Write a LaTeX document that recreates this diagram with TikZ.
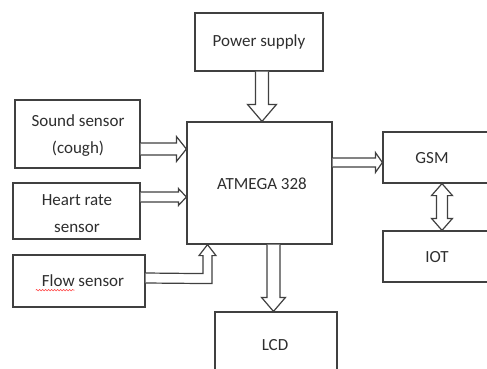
\documentclass[tikz,border=0pt]{standalone}
\usepackage{fontspec}
\setmainfont{Carlito}
\usetikzlibrary{calc,decorations.pathmorphing}
\tikzset{
  box/.style={draw=black!75, line width=1.2pt, rectangle, inner sep=0pt},
  lbl/.style={text=black!82, font=\fontsize{17}{27}\selectfont, align=center, inner sep=0pt},
  arr/.style={draw=black!75, line width=1.2pt, line join=miter, fill=white},
}
% horizontal block arrow: start #1, tip #2, half shaft #3, half head #4, head length #5
\newcommand\harrowblk[5]{%
  \draw[arr] ($(#1)+(0,#3)$) -- ($(#2)+(-#5,#3)$) -- ($(#2)+(-#5,#4)$) -- (#2)
    -- ($(#2)+(-#5,-#4)$) -- ($(#2)+(-#5,-#3)$) -- ($(#1)+(0,-#3)$);}
% vertical (downward) block arrow
\newcommand\varrowblk[5]{%
  \draw[arr] ($(#1)+(-#3,0)$) -- ($(#2)+(-#3,-#5)$) -- ($(#2)+(-#4,-#5)$) -- (#2)
    -- ($(#2)+(#4,-#5)$) -- ($(#2)+(#3,-#5)$) -- ($(#1)+(#3,0)$);}
\begin{document}
\begin{tikzpicture}[x=1pt,y=-1pt]
\useasboundingbox (0,0) rectangle (487,369);
\clip (0,0) rectangle (487,369);
% boxes
\node[box, minimum width=128pt, minimum height=58pt] (pwr) at (259,42) {};
\node[lbl] (pwrt) at (pwr) {Power supply};
\node[box, minimum width=145pt, minimum height=122pt] (atm) at (259.5,183) {};
\node[lbl] (atmt) at (262,184) {ATMEGA 328};
\node[box, minimum width=125pt, minimum height=68pt] (snd) at (77.5,134) {};
\node[lbl] (sndt) at (78,135.5) {Sound sensor\\(cough)};
\node[box, minimum width=127pt, minimum height=56pt] (hrt) at (76.5,211) {};
\node[lbl] (hrtt) at (77,213.5) {Heart rate\\sensor};
\node[box, minimum width=132pt, minimum height=52pt] (flw) at (79,281) {};
\node[lbl] (flwt) at (83,281) {Flow sensor};
\node[box, minimum width=122pt, minimum height=80pt] (lcd) at (276,352) {};
\node[lbl] (lcdt) at (275,345) {LCD};
\node[box, minimum width=120pt, minimum height=51pt] (gsm) at (443,157.5) {};
\node[lbl] (gsmt) at (432,158) {GSM};
\node[box, minimum width=120pt, minimum height=51pt] (iot) at (443,256.5) {};
\node[lbl] (iott) at (437,257) {IOT};
% spell-check squiggle under "Flow"
\draw[red!75, line width=0.6pt, decorate, decoration={snake, amplitude=0.7pt, segment length=3pt}]
  ($(flwt.south west)+(-6,3)$) -- ($(flwt.south west)+(33,3)$);
% arrows
\coordinate (pa) at (262,0);
\varrowblk{pa |- pwr.south}{pa |- atm.north}{6.5}{14.5}{17}
\coordinate (la) at (273.5,0);
\varrowblk{la |- atm.south}{la |- lcd.north}{6.5}{12}{14}
\coordinate (sa) at (0,149);
\harrowblk{snd.east |- sa}{atm.west |- sa}{6}{12.5}{10}
\coordinate (ha) at (0,197);
\harrowblk{hrt.east |- ha}{atm.west |- ha}{5}{8.5}{8}
\coordinate (ga) at (0,162.5);
\harrowblk{atm.east |- ga}{gsm.west |- ga}{4.5}{10}{7}
% flow sensor L-shaped arrow
\coordinate (fa) at (207.5,0);
\coordinate (ftip) at (fa |- atm.south);
\draw[arr] (flw.east |- 0,273) -- ($(ftip)+(-4.5,29)$) -- ($(ftip)+(-4.5,11)$) -- ($(ftip)+(-8.5,11)$)
  -- (ftip) -- ($(ftip)+(8.5,11)$) -- ($(ftip)+(4.5,11)$) -- ($(ftip)+(4.5,39)$) -- (flw.east |- 0,283);
% GSM <-> IOT double arrow
\coordinate (da) at (442,0);
\coordinate (dt) at (da |- gsm.south);
\coordinate (db) at (da |- iot.north);
\draw[arr] (dt) -- ($(dt)+(10.5,12)$) -- ($(dt)+(5.5,12)$) -- ($(db)+(5.5,-12)$) -- ($(db)+(10.5,-12)$)
  -- (db) -- ($(db)+(-10.5,-12)$) -- ($(db)+(-5.5,-12)$) -- ($(dt)+(-5.5,12)$) -- ($(dt)+(-10.5,12)$) -- cycle;
\end{tikzpicture}
\end{document}
